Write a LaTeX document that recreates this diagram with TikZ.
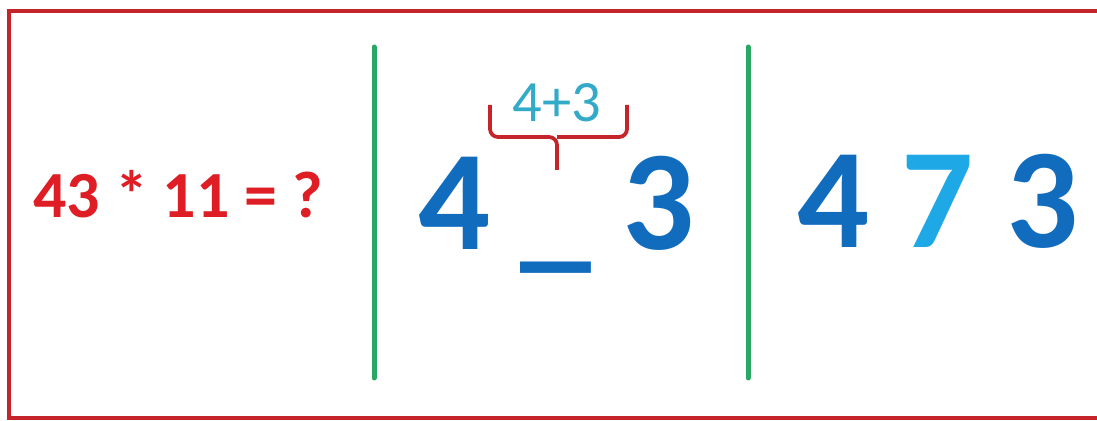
\documentclass[tikz,border=0pt]{standalone}
\usepackage{fontspec}
\setmainfont{Carlito}
\usepackage{xcolor}
\definecolor{framered}{RGB}{196,36,42}
\definecolor{textred}{RGB}{222,30,36}
\definecolor{digitblue}{RGB}{18,108,190}
\definecolor{lightblue}{RGB}{30,168,230}
\definecolor{sumcyan}{RGB}{50,170,200}
\definecolor{linegreen}{RGB}{40,168,100}

\begin{document}
\begin{tikzpicture}[x=0.02cm, y=-0.02cm,
    bigdigit/.style={anchor=base, inner sep=0pt, text=digitblue, font=\bfseries\fontsize{81}{81}\selectfont},
    divider/.style={linegreen, line width=0.1cm, line cap=round}]
    \useasboundingbox (0,0) rectangle (1097,421);

    % Frame (open on the right)
    \draw[framered, line width=0.08cm] (1100,11) -- (9,11) -- (9,418) -- (1100,418);

    % The question
    \node[anchor=base, inner sep=0pt, text=textred, font=\bfseries\fontsize{37.5}{37.5}\selectfont] (question) at (178,218) {43 * 11 = ?};

    % Dividers
    \coordinate (d1top) at (374,47);
    \coordinate (d1bot) at (374,378);
    \coordinate (d2top) at (748,47);
    \coordinate (d2bot) at (748,378);
    \draw[divider] (d1top) -- (d1bot);
    \draw[divider] (d2top) -- (d2bot);

    % Step: outer digits with a gap
    \node[bigdigit] (left4) at (455,250) {4};
    \node[bigdigit] (gap) at (556,254) {\_};
    \node[bigdigit] (left3) at (659,250) {3};

    % Brace with the sum
    \coordinate (bl) at (490,105);
    \coordinate (br) at (627,105);
    \coordinate (tip) at (557,170);
    \draw[framered, line width=0.075cm, rounded corners=0.16cm]
        (bl) -- (490,137) -- (557,137) -- (tip);
    \draw[framered, line width=0.075cm, rounded corners=0.16cm]
        (br) -- (627,137) -- (557,137);
    \node[anchor=base, inner sep=0pt, text=sumcyan, font=\fontsize{33.3}{33.3}\selectfont] (sum) at (557,122) {4+3};

    % Result
    \node[bigdigit] (result) at (938,248) {4 {\color{lightblue}7} 3};
\end{tikzpicture}
\end{document}
